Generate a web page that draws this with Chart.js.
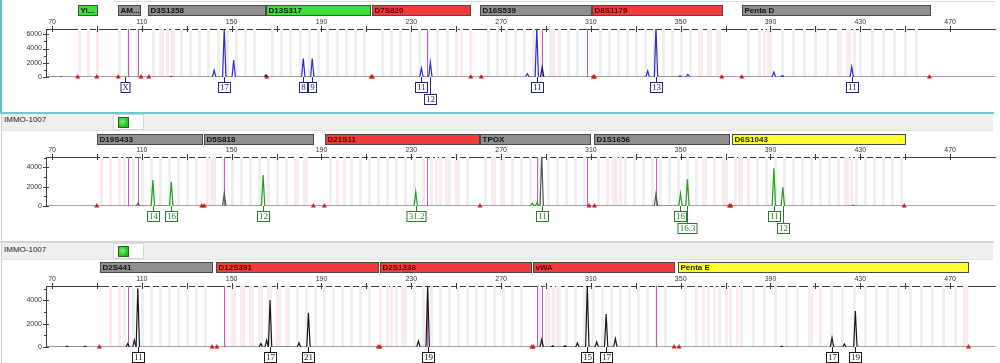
<!DOCTYPE html>
<html>
<head>
<meta charset="utf-8">
<title>IMMO-1007 electropherogram</title>
<script src="https://cdn.jsdelivr.net/npm/chart.js@4/dist/chart.umd.min.js"></script>
<style>
    body { margin: 0; width: 1000px; height: 363px; position: relative; overflow: hidden; background: #fff;
           font-family: Arial, "Liberation Sans", sans-serif; }
    canvas { position: absolute; left: 0; }
    .line { position: absolute; }
    .band { position: absolute; left: 2px; width: 991px; height: 16px; background: #efefef; border-bottom: 1px solid #e4e4e4; }
    .name { position: absolute; left: 4px; font-size: 8px; color: #222; }
    .sel { position: absolute; left: 113px; width: 29px; height: 14px; background: #fff; border: 1px solid #d8d8d8; }
    .sel i { position: absolute; left: 4px; top: 2px; width: 9px; height: 9px; border: 1px solid #1d6a1d;
             background: radial-gradient(circle at 40% 40%, #7cf07c, #1fc01f 70%); }
</style>
</head>
<body>

<!-- frame -->
<div class="line" style="left:0;top:0;width:2px;height:114px;background:#5fc4cc"></div>
<div class="line" style="left:114px;top:0;width:880px;height:1px;border-bottom:1px solid #dcdcdc;border-left:1px solid #dcdcdc"></div>
<div class="line" style="left:0;top:112px;width:994px;height:2px;background:#6cc9d1"></div>
<div class="line" style="left:1px;top:114px;width:1px;height:128px;background:#d0d0d0"></div>
<div class="line" style="left:0;top:241px;width:994px;height:2px;background:#d4d4d4"></div>
<div class="line" style="left:1px;top:243px;width:1px;height:120px;background:#d0d0d0"></div>

<div class="band" style="top:114px"></div>
<div class="name" style="top:115px">IMMO-1007</div>
<div class="sel" style="top:114px"><i></i></div>

<div class="band" style="top:243px"></div>
<div class="name" style="top:245px">IMMO-1007</div>
<div class="sel" style="top:243px"><i></i></div>

<canvas id="panel_1_cnv" width="1000" height="110" style="top:0"></canvas>
<canvas id="panel_2_cnv" width="1000" height="126" style="top:114px"></canvas>
<canvas id="panel_3_cnv" width="1000" height="120" style="top:243px"></canvas>

<script>
// size axis (bp), shared by all three dye panels
const x_min = 67.3;
const x_max = 490;
const x_ticks = [70, 90, 110, 130, 150, 170, 190, 210, 230, 250, 270, 290, 310, 330, 350, 370, 390, 410, 430, 450, 470];
const x_labels = [70, 110, 150, 190, 230, 270, 310, 350, 390, 430, 470];

// y axes (RFU)
const y_ticks_1 = [0, 2000, 4000, 6000];
const y_marks_1 = [0, 1000, 2000, 3000, 4000, 5000, 6000];
const y_ticks_2 = [0, 2000, 4000];
const y_marks_2 = [0, 1000, 2000, 3000, 4000, 5000];
const y_ticks_3 = [0, 2000, 4000];
const y_marks_3 = [0, 1000, 2000, 3000, 4000, 5000];

// loci: [name, from bp, to bp, kind]
const loci_1 = [["Yi...", 81.6, 90.0, "green"], ["AM...", 99.4, 109.2, "gray"], ["D3S1358", 112.8, 164.9, "gray"],
    ["D13S317", 165.3, 211.6, "green"], ["D7S820", 212.5, 256.2, "red"], ["D16S539", 260.6, 310.2, "gray"],
    ["D8S1179", 310.6, 368.4, "red"], ["Penta D", 377.3, 461.1, "gray"]];
const loci_2 = [["D19S433", 90.0, 136.8, "gray"], ["D5S818", 137.7, 186.3, "gray"], ["D21S11", 191.6, 260.2, "red"],
    ["TPOX", 260.5, 309.6, "gray"], ["D1S1656", 311.4, 371.6, "gray"], ["D6S1043", 372.9, 450.0, "yellow"]];
const loci_3 = [["D2S441", 91.4, 141.3, "gray"], ["D12S391", 143.1, 215.2, "red"], ["D2S1338", 216.1, 283.4, "red"],
    ["vWA", 284.3, 347.1, "red"], ["Penta E", 348.8, 478.0, "yellow"]];

// peaks: [size bp, height RFU, "d" = drawn dark]
const peaks_1 = [[74.0, 60], [123.0, 90], [142.2, 950], [146.7, 7000], [150.9, 2370], [165.2, 300, "d"], [181.9, 2600],
    [185.9, 2600], [234.5, 1230], [238.5, 2040], [281.7, 480], [285.9, 6800], [288.3, 1400, "d"], [335.3, 850],
    [339.0, 7000], [349.7, 150], [353.2, 380], [391.5, 700], [395.3, 200], [426.2, 1420]];
const peaks_2 = [[108.3, 300, "d"], [114.9, 2680], [123.1, 2500], [146.7, 1290, "d"], [164.0, 3200], [232.0, 1460],
    [283.9, 300], [286.0, 350], [288.1, 5200, "d"], [339.0, 1290, "d"], [349.9, 1290], [353.0, 2750],
    [391.5, 3890], [395.5, 1920], [427.0, 90]];
const peaks_3 = [[76.7, 80], [84.7, 80], [103.7, 290], [106.7, 580], [108.2, 5030], [163.0, 290], [165.6, 580],
    [167.1, 4030], [180.0, 350], [184.2, 2930], [233.2, 520], [237.3, 5300], [288.1, 640], [293.0, 100],
    [298.5, 100], [304.0, 350], [308.4, 5300], [312.6, 430], [316.8, 2820], [320.9, 720], [395.0, 80],
    [417.4, 780], [422.9, 260], [427.8, 3080]];

// allele calls: [size bp, label, row]
const alleles_1 = [[102.5, "X", 1], [146.7, "17", 1], [181.9, "8", 1], [185.9, "9", 1], [234.5, "11", 1],
    [238.5, "12", 2], [285.9, "11", 1], [339.0, "13", 1], [426.2, "11", 1]];
const alleles_2 = [[114.9, "14", 1], [123.1, "16", 1], [164.0, "12", 1], [232.0, "31.2", 1], [288.1, "11", 1],
    [349.9, "16", 1], [353.0, "16.3", 2], [391.5, "11", 1], [395.5, "12", 2]];
const alleles_3 = [[108.2, "11", 1], [167.1, "17", 1], [184.2, "21", 1], [237.3, "19", 1], [308.4, "15", 1],
    [316.8, "17", 1], [417.4, "17", 1], [427.8, "19", 1]];

// magenta marker lines (bp)
const magenta_1 = [103.9, 108.3, 237.0, 288.3, 308.3];
const magenta_2 = [103.9, 108.3, 146.7, 237.0, 286.0, 308.3, 339.0];
const magenta_3 = [103.9, 146.7, 237.0, 286.0, 288.3, 339.0];

// red baseline triangles (bp)
const red_1 = [81.4, 89.9, 99.5, 109.6, 113.1, 165.6, 212.1, 212.7, 256.5, 261.2, 311.1, 311.6, 368.3, 377.2, 460.8];
const red_2 = [89.9, 136.7, 137.8, 186.4, 191.3, 260.6, 309.2, 311.6, 371.7, 372.4, 449.6];
const red_3 = [91.1, 141.3, 143.4, 215.3, 216.1, 283.7, 284.4, 347.1, 349.3, 478.2];

// allele bins: [from bp, to bp, repeat bp, "g" gray | "p" pink]
const bins_1 = [[100, 108, 4, "g"], [115, 163, 4.1, "g"], [168, 209, 4.1, "g"], [217, 253, 4.1, "g"], [264, 306, 4, "g"],
    [314, 366, 4, "g"], [380, 458, 5, "g"], [82, 90, 4, "p"], [118, 124, 3, "p"], [252, 256, 4, "p"],
    [293, 296, 3, "p"], [359, 367, 4, "p"], [387, 389, 2, "p"], [421, 427, 3, "p"]];
const bins_2 = [[102, 134, 4, "g"], [142, 182, 4, "g"], [203, 258, 4, "g"], [263, 307, 4, "g"], [313, 370, 4, "g"],
    [376, 449, 4, "g"], [92, 100, 4, "p"], [139, 141, 2, "p"], [179, 183, 4, "p"], [194, 200, 3, "p"],
    [241, 250, 4.5, "p"], [266, 270, 4, "p"], [317, 323, 3, "p"], [360, 370, 5, "p"], [374, 380, 3, "p"], [420, 426, 3, "p"]];
const bins_3 = [[102, 140, 4, "g"], [147, 214, 4, "g"], [219, 282, 4, "g"], [287, 345, 4, "g"], [352, 475, 5, "g"],
    [96, 100, 4, "p"], [150, 175, 4, "p"], [216, 226, 5, "p"], [290, 296, 3, "p"], [360, 375, 5, "p"],
    [408, 412, 4, "p"], [476, 477, 1, "p"]];

const locus_fill = {gray: "#8f8f8f", green: "#38e038", red: "#f03c3c", yellow: "#ffff33"};
const locus_text = {gray: "#111", green: "#111", red: "#5c0000", yellow: "#222"};
const peak_half = 0.75;


function build_trace(peaks, color, dark) {
    const sorted = peaks.slice().sort(function (a, b) { return a[0] - b[0]; });
    const pts = [{x: x_min, y: 0, c: color}];
    sorted.forEach(function (p) {
        const c = p[2] === "d" ? dark : color;
        pts.push({x: p[0] - peak_half, y: 0, c: c}, {x: p[0], y: p[1], c: c}, {x: p[0] + peak_half, y: 0, c: c});
    });
    pts.push({x: x_max, y: 0, c: color});
    return pts;
}


function make_plugin(cfg) {
    return {
        id: "epg_" + cfg.id,
        beforeDatasetsDraw: function (chart) {
            const ctx = chart.ctx, a = chart.chartArea, x = chart.scales.x, y = chart.scales.y;
            ctx.save();
            ctx.beginPath();
            ctx.rect(a.left, a.top, a.right - a.left, a.bottom - a.top);
            ctx.clip();
            cfg.bins.forEach(function (run) {
                ctx.fillStyle = run[3] === "p" ? "#fdeaed" : "#efefef";
                for (let v = run[0]; v <= run[1] + 0.001; v += run[2]) {
                    ctx.fillRect(Math.round(x.getPixelForValue(v)) - 1, a.top, 3, a.bottom - a.top);
                }
            });
            ctx.strokeStyle = "#cc55cc";
            ctx.lineWidth = 1;
            cfg.magenta.forEach(function (v) {
                const px = Math.round(x.getPixelForValue(v)) + 0.5;
                ctx.beginPath();
                ctx.moveTo(px, y.getPixelForValue(0));
                ctx.lineTo(px, a.top);
                ctx.stroke();
            });
            ctx.restore();
        },
        afterDraw: function (chart) {
            const ctx = chart.ctx, a = chart.chartArea, x = chart.scales.x, y = chart.scales.y;
            ctx.save();
            ctx.strokeStyle = "#3c3c3c";
            ctx.lineWidth = 1;
            x_ticks.forEach(function (v) {
                const px = Math.round(x.getPixelForValue(v)) + 0.5;
                ctx.beginPath();
                ctx.moveTo(px, a.top - 3);
                ctx.lineTo(px, a.top + 3);
                ctx.stroke();
            });
            cfg.y_marks.forEach(function (v) {
                const py = Math.round(y.getPixelForValue(v)) + 0.5;
                const major = v % 2000 === 0;
                ctx.beginPath();
                ctx.moveTo(a.left - (major ? 3 : 2), py);
                ctx.lineTo(a.left + (major ? 3 : 1), py);
                ctx.stroke();
            });

            // locus bars
            ctx.font = "bold 8px Arial, 'Liberation Sans', sans-serif";
            ctx.textBaseline = "middle";
            ctx.textAlign = "left";
            cfg.loci.forEach(function (l) {
                const x0 = Math.round(x.getPixelForValue(l[1])) + 0.5;
                const x1 = Math.round(x.getPixelForValue(l[2])) + 0.5;
                ctx.fillStyle = locus_fill[l[3]];
                ctx.fillRect(x0, cfg.bar_top + 0.5, x1 - x0, 10);
                ctx.strokeStyle = "#4a4a4a";
                ctx.strokeRect(x0, cfg.bar_top + 0.5, x1 - x0, 10);
                ctx.fillStyle = locus_text[l[3]];
                ctx.fillText(l[0], x0 + 2, cfg.bar_top + 6);
            });

            // allele call boxes
            const base = y.getPixelForValue(0);
            ctx.font = "9px 'Liberation Serif', 'Times New Roman', serif";
            ctx.textAlign = "center";
            cfg.alleles.forEach(function (al) {
                const px = Math.round(x.getPixelForValue(al[0])) + 0.5;
                const top = Math.round(base) + (al[2] === 2 ? 17 : 5) + 0.5;
                const w = Math.round(ctx.measureText(al[1]).width) + 3;
                ctx.strokeStyle = cfg.label_color;
                ctx.beginPath();
                ctx.moveTo(px, base);
                ctx.lineTo(px, top);
                ctx.stroke();
                ctx.fillStyle = "#fff";
                ctx.fillRect(px - w / 2, top, w, 10);
                ctx.strokeRect(px - w / 2, top, w, 10);
                ctx.fillStyle = cfg.label_color;
                ctx.fillText(al[1], px, top + 5.5);
            });
            ctx.restore();
        }
    };
}


function make_panel(cfg) {
    const trace = build_trace(cfg.peaks, cfg.color, cfg.dark);
    return new Chart(document.getElementById(cfg.id).getContext("2d"), {
        type: "line",
        data: {
            datasets: [{
                data: trace,
                borderColor: cfg.color,
                borderWidth: 1.2,
                pointRadius: 0,
                tension: 0,
                segment: {
                    borderColor: function (s) {
                        const p0 = trace[s.p0DataIndex], p1 = trace[s.p1DataIndex];
                        if (p0.y === 0 && p1.y === 0) return "#4d4d4d";
                        return p0.y > 0 ? p0.c : p1.c;
                    }
                }
            }, {
                data: cfg.reds.map(function (v) { return {x: v, y: 0}; }),
                showLine: false,
                pointStyle: "triangle",
                pointRadius: 2.4,
                pointBackgroundColor: "#e41414",
                pointBorderColor: "#e41414",
                pointBorderWidth: 0.5,
                clip: false
            }]
        },
        options: {
            responsive: false,
            animation: false,
            events: [],
            layout: {padding: {top: cfg.pad_top, bottom: cfg.pad_bottom, left: 0, right: 5}},
            plugins: {legend: {display: false}, tooltip: {enabled: false}},
            scales: {
                x: {
                    type: "linear",
                    position: "top",
                    min: x_min,
                    max: x_max,
                    afterBuildTicks: function (s) { s.ticks = x_ticks.map(function (v) { return {value: v}; }); },
                    afterFit: function (s) { s.height = 12; },
                    ticks: {
                        autoSkip: false,
                        maxRotation: 0,
                        padding: 3,
                        color: "#333",
                        font: {size: 7, family: "Arial, 'Liberation Sans', sans-serif"},
                        callback: function (v) { return x_labels.includes(v) ? String(v) : ""; }
                    },
                    grid: {drawOnChartArea: false, drawTicks: false},
                    border: {color: "#3c3c3c"}
                },
                y: {
                    min: 0,
                    max: cfg.y_max,
                    afterBuildTicks: function (s) { s.ticks = cfg.y_ticks.map(function (v) { return {value: v}; }); },
                    afterFit: function (s) { s.width = 46; },
                    ticks: {
                        padding: 4,
                        color: "#333",
                        font: {size: 7, family: "Arial, 'Liberation Sans', sans-serif"},
                        callback: function (v) { return String(v); }
                    },
                    grid: {drawOnChartArea: false, drawTicks: false},
                    border: {color: "#3c3c3c"}
                }
            }
        },
        plugins: [make_plugin(cfg)]
    });
}


make_panel({
    id: "panel_1_cnv", peaks: peaks_1, color: "#2b2bd2", dark: "#1a1a6a", label_color: "#24247e",
    alleles: alleles_1, magenta: magenta_1, reds: red_1, loci: loci_1, bins: bins_1,
    y_max: 6750, y_ticks: y_ticks_1, y_marks: y_marks_1, pad_top: 17, pad_bottom: 33, bar_top: 5
});
make_panel({
    id: "panel_2_cnv", peaks: peaks_2, color: "#1fa01f", dark: "#555555", label_color: "#2a7d2a",
    alleles: alleles_2, magenta: magenta_2, reds: red_2, loci: loci_2, bins: bins_2,
    y_max: 5065, y_ticks: y_ticks_2, y_marks: y_marks_2, pad_top: 31, pad_bottom: 34, bar_top: 20
});
make_panel({
    id: "panel_3_cnv", peaks: peaks_3, color: "#161616", dark: "#161616", label_color: "#161616",
    alleles: alleles_3, magenta: magenta_3, reds: red_3, loci: loci_3, bins: bins_3,
    y_max: 5225, y_ticks: y_ticks_3, y_marks: y_marks_3, pad_top: 31, pad_bottom: 16, bar_top: 19
});
</script>
</body>
</html>
